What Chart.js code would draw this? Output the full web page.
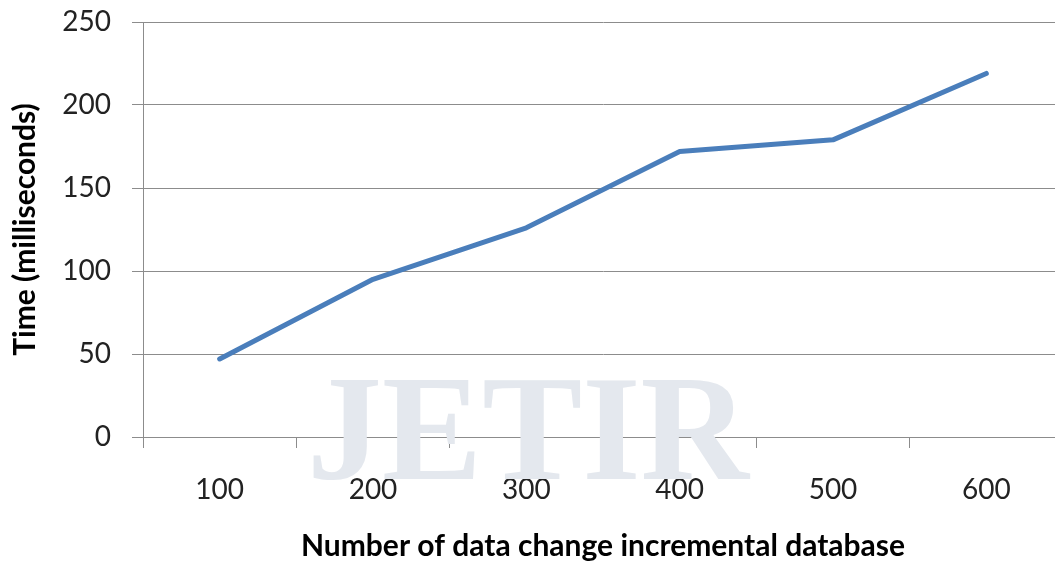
<!DOCTYPE html>
<html>
<head>
<meta charset="utf-8">
<script src="https://cdn.jsdelivr.net/npm/chart.js@4/dist/chart.umd.min.js"></script>
<style>
  html, body { margin: 0; padding: 0; background: #fff; overflow: hidden; }
  #wrap { width: 1068px; height: 566px; position: relative; }
</style>
</head>
<body>
<div id="wrap"><canvas id="chartTempo"></canvas></div>
<script>
const categorias = ['100', '200', '300', '400', '500', '600']
const tempoMs = [47, 95, 126, 172, 179, 219]
const yTicks = [0, 50, 100, 150, 200, 250]

const chartTempo = document.getElementById('chartTempo')

// marca d'agua fraca atras do grafico
const marcaDagua = {
    id: 'marcaDagua',
    beforeDatasetsDraw(chart) {
        const ctx = chart.ctx
        ctx.save()
        ctx.fillStyle = '#e4e8ee'
        ctx.font = 'bold 150px "Liberation Serif", "DejaVu Serif", serif'
        ctx.textAlign = 'center'
        ctx.textBaseline = 'middle'
        ctx.fillText('JETIR', 528, 440)
        ctx.restore()
    }
}

new Chart(chartTempo, {
    type: 'line',
    data: {
        labels: categorias,
        datasets: [{
            label: 'Time',
            data: tempoMs,
            borderColor: '#4A7EBB',
            borderWidth: 5,
            borderCapStyle: 'round',
            borderJoinStyle: 'round',
            pointRadius: 0,
            tension: 0
        }]
    },
    options: {
        responsive: true,
        maintainAspectRatio: false,
        animation: false,
        layout: { padding: { top: 22, right: 5, left: 0, bottom: 0 } },
        plugins: {
            legend: { display: false },
            tooltip: { enabled: false }
        },
        scales: {
            x: {
                offset: true,
                grid: {
                    offset: true,
                    drawOnChartArea: false,
                    color: '#8c8c8c',
                    tickLength: 11
                },
                border: { color: '#8c8c8c' },
                ticks: {
                    color: '#222',
                    padding: 25,
                    font: { family: 'Lato', size: 28 }
                },
                title: {
                    display: true,
                    text: 'Number of data change incremental database',
                    color: '#000',
                    font: { family: 'Lato', size: 30, weight: 'bold' },
                    padding: { top: 0, bottom: 2 }
                },
                afterFit(scale) { scale.height = 129 }
            },
            y: {
                min: 0,
                max: 250,
                afterBuildTicks(scale) { scale.ticks = yTicks.map(v => ({ value: v })) },
                grid: {
                    color: '#8c8c8c',
                    tickLength: 11
                },
                border: { color: '#8c8c8c' },
                ticks: {
                    color: '#222',
                    padding: 21,
                    font: { family: 'Lato', size: 28 }
                },
                title: {
                    display: true,
                    text: 'Time (milliseconds)',
                    color: '#000',
                    font: { family: 'Lato', size: 30, weight: 'bold' },
                    padding: { top: 7, bottom: 0 }
                },
                afterFit(scale) {
                    scale.width = 143
                    scale.paddingTop = 0
                    scale.paddingBottom = 0
                }
            }
        }
    },
    plugins: [marcaDagua]
});
</script>
</body>
</html>
